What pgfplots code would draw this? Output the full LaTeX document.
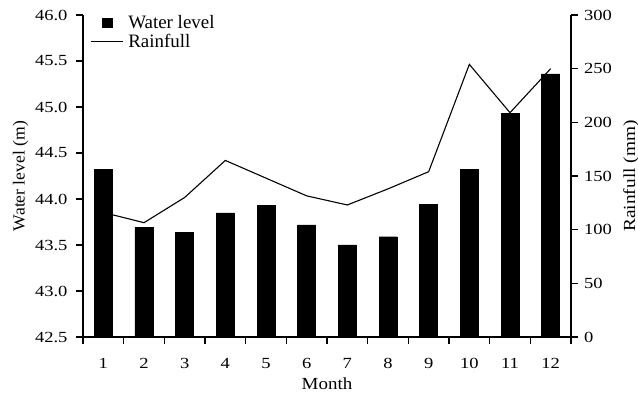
\documentclass[border=0pt]{standalone}
\usepackage{fontspec}
\setmainfont{Liberation Serif}
\usepackage{graphicx}
\usepackage{pgfplots}
\usepackage{pgfplotstable}
\pgfplotsset{compat=1.18}

% Monthly mean water level (m) and rainfall (mm)
\pgfplotstableread{
month level rain
1  44.32 116
2  43.69 106.5
3  43.64 130
4  43.85 164.5
5  43.93 148
6  43.72 131.5
7  43.50 123
8  43.59 138
9  43.94 154
10 44.32 254
11 44.93 209
12 45.36 250
}\hydrodata

\newcommand{\tickfont}{\fontsize{15.5}{18}\selectfont}
\newcommand{\labelfont}{\fontsize{17}{20}\selectfont}
\newcommand{\wide}[1]{\scalebox{1.2}[1]{#1}}

\pgfplotsset{
  common/.style={
    scale only axis, width=488bp, height=322bp,
    xmin=0.5, xmax=12.5,
    axis line style={line width=1.2bp},
    tick style={line width=1.2bp, black},
    tick align=outside,
    major tick length=7bp,
    tick label style={font=\tickfont},
    label style={font=\labelfont},
  },
  levelkey/.style={legend image code/.code={%
    \fill[black] (11bp,-4.8bp) rectangle (21bp,4.8bp);
    \path (0bp,0bp) (32bp,0bp);}},
  rainkey/.style={legend image code/.code={%
    \draw[black, line width=1.1bp] (0bp,0bp) -- (32bp,0bp);}},
}

\begin{document}
\begin{tikzpicture}
% rainfall on the right-hand axis (drawn first, bars lie on top)
\begin{axis}[common, name=rainax,
  axis y line*=right, axis x line=none,
  ymin=0, ymax=300, ytick={0,50,...,300},
  yticklabel={\wide{\pgfmathprintnumber[assume math mode=true]{\tick}}},
  yticklabel style={xshift=2.5bp},
  ylabel={\scalebox{1.14}[1]{Rainfull (mm)}},
  ylabel style={yshift=-4.5bp},
]
\addplot[black, line width=1.1bp, mark=none] table[x=month, y=rain] {\hydrodata};
\end{axis}
% water level bars on the left-hand axis
\begin{axis}[common,
  axis y line*=left, axis x line*=bottom,
  ymin=42.5, ymax=46.0, ytick={42.5,43.0,...,46.0},
  yticklabel={\wide{\pgfmathprintnumber[assume math mode=true,fixed,fixed zerofill,precision=1]{\tick}}},
  yticklabel style={xshift=-5bp},
  xtick={0.5,1.5,...,12.5}, xticklabels={},
  extra x ticks={1,2,...,12},
  extra x tick labels={\wide{1},\wide{2},\wide{3},\wide{4},\wide{5},\wide{6},\wide{7},\wide{8},\wide{9},\wide{10},\wide{11},\wide{12}},
  extra x tick style={tick style={draw=none}, xticklabel style={yshift=-11bp}},
  xlabel={\scalebox{1.12}[1]{Month}},
  xlabel style={yshift=5bp},
  ylabel={\scalebox{1.04}[1]{Water level (m)}},
  legend style={draw=none, fill=none, at={(rel axis cs:0,1)}, anchor=north west,
    xshift=7bp, yshift=2bp, inner sep=0pt, font=\fontsize{19}{21}\selectfont,
    nodes={inner sep=2bp},
    /tikz/every odd column/.append style={column sep=3bp}},
  legend cell align=left,
]
\addplot[ybar, bar width=18bp, fill=black, draw=black, levelkey]
  table[x=month, y=level] {\hydrodata};
\addlegendentry{Water level}
\addlegendimage{rainkey}
\addlegendentry{Rainfull}
\end{axis}
\pgfresetboundingbox
\path[use as bounding box] ([shift={(-83bp,-56bp)}]rainax.south west) rectangle ([shift={(67bp,15bp)}]rainax.north east);
\end{tikzpicture}
\end{document}
